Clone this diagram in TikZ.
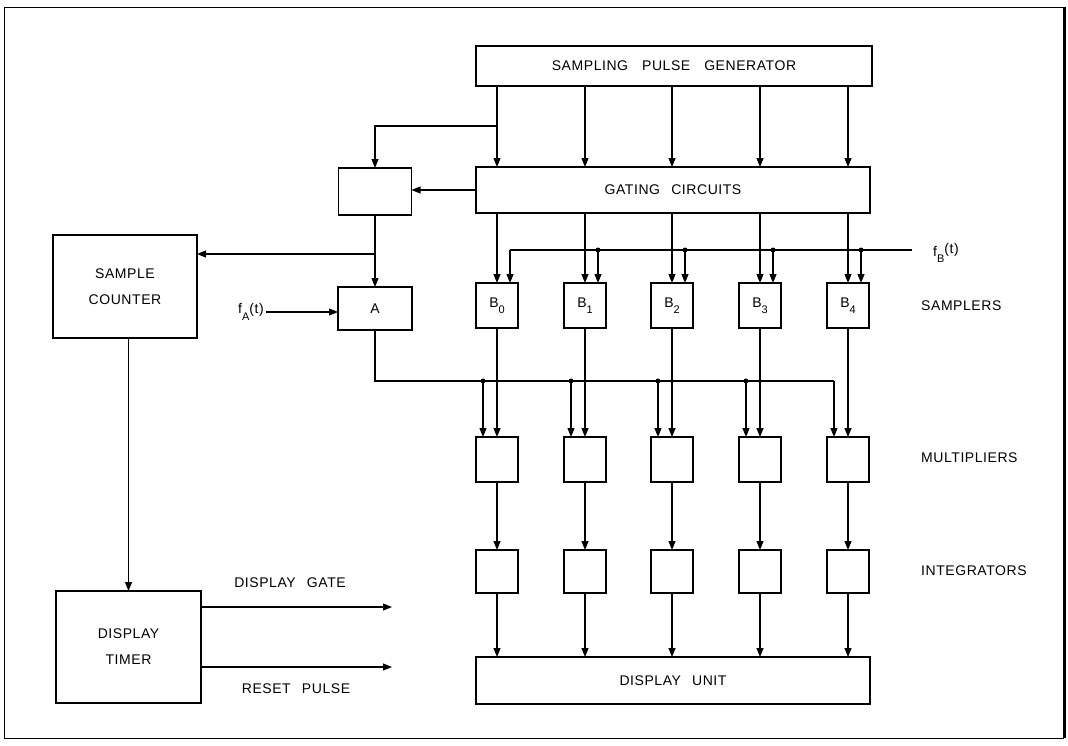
\documentclass[tikz,border=0pt]{standalone}
\usepackage{fontspec}
\newfontfamily\lett[LetterSpace=4]{Liberation Sans}
\usetikzlibrary{arrows.meta}
\newcommand\sbs[1]{\raisebox{-0.45em}{\fontsize{11}{11}\selectfont #1}}
\begin{document}
\begin{tikzpicture}[x=1pt,y=-1pt,
  box/.style={draw, line width=1.2pt, inner sep=0pt, outer sep=0pt, align=center,
    font=\lett\fontsize{14}{20}\selectfont},
  lbl/.style={inner sep=0pt, font=\lett\fontsize{14}{20}\selectfont},
  wire/.style={line width=1.1pt},
  arr/.style={wire, -{Triangle[length=9pt,width=7pt]}},
  jdot/.style={circle, fill, inner sep=0pt, minimum size=5pt},
]
\useasboundingbox (0,0) rectangle (1068,745);
% frame
\draw[line width=0.8pt] (4,738) -- (4,7) -- (1064,7);
\draw[line width=0.8pt] (4,738) -- (1064,738);
\draw[line width=3pt] (1064,7) -- (1064,738);

% main boxes
\node[box, minimum width=396pt, minimum height=40pt] (spg) at (674,66) {SAMPLING\hspace{1em}PULSE\hspace{1em}GENERATOR};
\node[box, minimum width=394pt, minimum height=46pt] (gc) at (673,190) {GATING\hspace{0.8em}CIRCUITS};
\node[box, minimum width=73pt, minimum height=47pt] (sb) at (375,191.5) {};
\node[box, minimum width=144pt, minimum height=103pt] (sc) at (125,286.5) {SAMPLE\\[6pt]COUNTER};
\node[box, minimum width=74pt, minimum height=43pt] (a) at (375,308.5) {A};
\node[box, minimum width=394pt, minimum height=47pt] (du) at (673,680.5) {DISPLAY\hspace{0.8em}UNIT};
\node[box, minimum width=145pt, minimum height=112pt] (dt) at (128.5,647) {DISPLAY\\[6pt]TIMER};

% columns
\foreach \i/\x in {0/497,1/585,2/672,3/760,4/848} {
  \node[box, minimum width=42pt, minimum height=45pt] (b\i) at (\x,305.5) {B\sbs{\i}};
  \node[box, minimum width=42pt, minimum height=45pt] (m\i) at (\x,459.5) {};
  \node[box, minimum width=42pt, minimum height=43pt] (i\i) at (\x,571.5) {};
  \coordinate (fbj\i) at (\x+13,250);
  \coordinate (aj\i) at (\x-14,381);
  \draw[arr] (spg.south -| b\i) -- (gc.north -| b\i);
  \draw[arr] (gc.south -| b\i) -- (b\i.north);
  \draw[arr] (b\i.south) -- (m\i.north);
  \draw[arr] (m\i.south) -- (i\i.north);
  \draw[arr] (i\i.south) -- (i\i.south |- du.north);
}

% left branch from sampling pulse generator
\coordinate (j1) at (497,126);
\draw[arr] (j1) -| (sb.north);
\draw[arr] (gc.west) -- (gc.west -| sb.east);
\draw[arr] (sb.south) -- (a.north);
\coordinate (j2) at (375,254);
\draw[arr] (j2) -- (j2 -| sc.east);

% f_A input
\node[lbl, anchor=east] (fa) at (264,312) {f\sbs{A}(t)};
\draw[arr] ([xshift=2pt]fa.east) -- (fa.east -| a.west);

% f_B input
\coordinate (fbe) at (912,250);
\node[lbl, anchor=west] (fb) at (933,253) {f\sbs{B}\raisebox{3pt}{(t)}};
\draw[wire] (fbe) -- (fbj0);
\draw[arr] (fbj0) -- (fbj0 |- b0.north);
\foreach \i in {1,2,3,4} {
  \draw[arr] (fbj\i) -- (fbj\i |- b\i.north);
  \node[jdot] at (fbj\i) {};
}

% A output bus
\draw[wire] (a.south) |- (aj4);
\draw[arr] (aj4) -- (aj4 |- m4.north);
\foreach \i in {0,1,2,3} {
  \draw[arr] (aj\i) -- (aj\i |- m\i.north);
  \node[jdot] at (aj\i) {};
}

% sample counter -> display timer
\draw[arr] (dt.north |- sc.south) -- (dt.north);
\coordinate (dg) at (392,607);
\coordinate (rp) at (392,667);
\draw[arr] (dt.east |- dg) -- (dg);
\draw[arr] (dt.east |- rp) -- (rp);
\node[lbl] at (290,583) {DISPLAY\hspace{0.8em}GATE};
\node[lbl] at (296,689) {RESET\hspace{0.8em}PULSE};

% row labels
\node[lbl, anchor=west] at (921,306) {SAMPLERS};
\node[lbl, anchor=west] at (921,458) {MULTIPLIERS};
\node[lbl, anchor=west] at (921,571) {INTEGRATORS};
\end{tikzpicture}
\end{document}
